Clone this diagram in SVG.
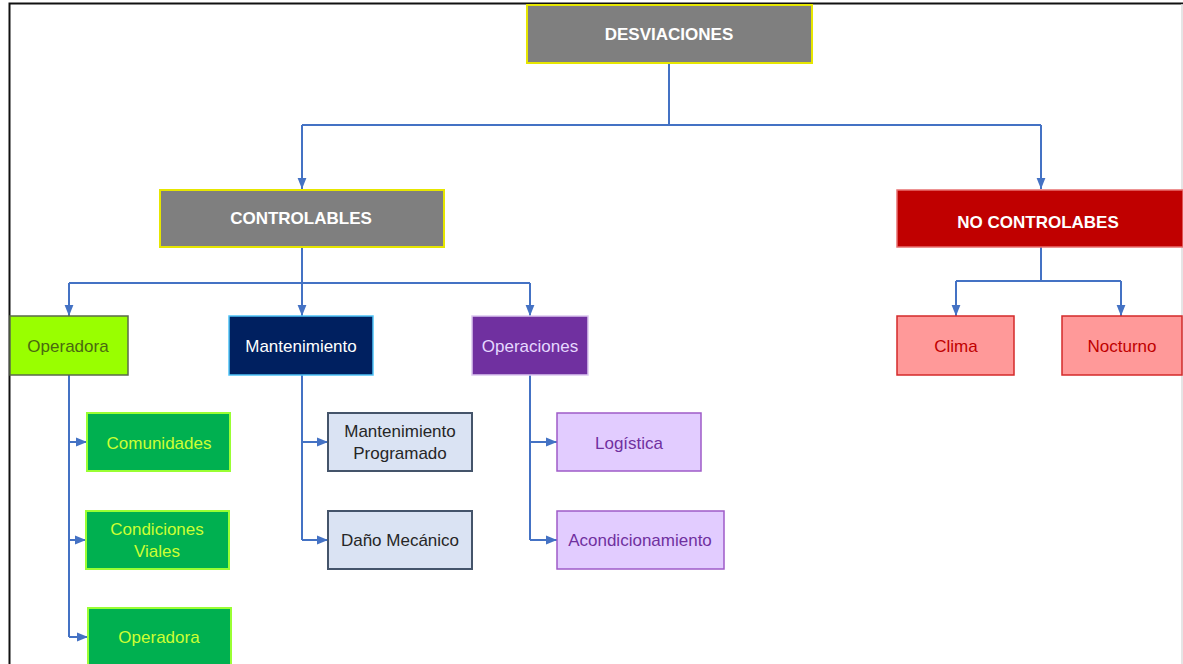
<svg xmlns="http://www.w3.org/2000/svg" width="1183" height="664" viewBox="0 0 1183 664">
<style>
text{font-family:"Liberation Sans",Arial,sans-serif;text-anchor:middle;dominant-baseline:central;font-size:17px}
.b{font-weight:bold;fill:#fff}
.c{fill:none;stroke:#4472c4;stroke-width:2}
.gray{fill:#7f7f7f;stroke:#e6e600;stroke-width:2}
.grn{fill:#00b050;stroke:#99ff33;stroke-width:2}
.gt{fill:#ccff33}
.mb{fill:#dae3f3;stroke:#44546a;stroke-width:2}
.mt{fill:#262626}
.pl{fill:#e2ccff;stroke:#9e5bc8;stroke-width:1.5}
.pt{fill:#7030a0}
.pk{fill:#ff9999;stroke:#d42a2a;stroke-width:1.5}
.kt{fill:#c00000}
</style>
<defs>
<marker id="a" viewBox="0 0 10 10" refX="10" refY="5" markerWidth="11" markerHeight="11" orient="auto" markerUnits="userSpaceOnUse">
<path d="M0,1L10,5L0,9z" fill="#4472c4"/>
</marker>
</defs>
<rect x="0" y="0" width="1183" height="664" fill="#fff"/>
<path d="M9.5,664V3.5H1183" fill="none" stroke="#111" stroke-width="2"/>
<path d="M1182,4V664" fill="none" stroke="#ddd" stroke-width="1.5"/>
<g id="connectors" class="c">
<path d="M669,63V125M302,125H1041"/>
<path d="M302,125V189" marker-end="url(#a)"/>
<path d="M1041,125V189" marker-end="url(#a)"/>
<path d="M302,247V283M69,283H530"/>
<path d="M69,283V316" marker-end="url(#a)"/>
<path d="M302,283V316" marker-end="url(#a)"/>
<path d="M530,283V316" marker-end="url(#a)"/>
<path d="M1041,247V281M956,281H1121"/>
<path d="M956,281V316" marker-end="url(#a)"/>
<path d="M1121,281V316" marker-end="url(#a)"/>
<path d="M69,375V637"/>
<path d="M69,442H87" marker-end="url(#a)"/>
<path d="M69,540H86" marker-end="url(#a)"/>
<path d="M69,637H88" marker-end="url(#a)"/>
<path d="M302,375V540"/>
<path d="M302,442H328" marker-end="url(#a)"/>
<path d="M302,540H328" marker-end="url(#a)"/>
<path d="M530,375V540"/>
<path d="M530,442H557" marker-end="url(#a)"/>
<path d="M530,540H557" marker-end="url(#a)"/>
</g>
<g id="desviaciones"><rect class="gray" x="527" y="5" width="285" height="58"/><text class="b" x="669" y="34">DESVIACIONES</text></g>
<g id="controlables"><rect class="gray" x="160" y="190" width="284" height="57"/><text class="b" x="301" y="218">CONTROLABLES</text></g>
<g id="nocontrolables"><rect x="897" y="190" width="286" height="57" fill="#c00000" stroke="#e87070" stroke-width="1.5"/><text class="b" x="1038" y="222">NO CONTROLABES</text></g>
<g id="operadora"><rect x="10" y="316" width="118" height="59" fill="#99ff00" stroke="#5a6a4a" stroke-width="1.5"/><text x="68" y="346" fill="#4a6a10">Operadora</text></g>
<g id="mantenimiento"><rect x="229" y="316" width="144" height="59" fill="#002060" stroke="#4fc3f7" stroke-width="1.5"/><text x="301" y="346" fill="#fff">Mantenimiento</text></g>
<g id="operaciones"><rect x="472" y="316" width="116" height="59" fill="#7030a0" stroke="#dcc8f0" stroke-width="1.5"/><text x="530" y="346" fill="#e6d8ff">Operaciones</text></g>
<g id="comunidades"><rect class="grn" x="87" y="413" width="143" height="58"/><text class="gt" x="159" y="443">Comunidades</text></g>
<g id="condiciones"><rect class="grn" x="86" y="511" width="143" height="58"/><text class="gt" x="157" y="529">Condiciones</text><text class="gt" x="157" y="551">Viales</text></g>
<g id="operadora2"><rect class="grn" x="88" y="608" width="143" height="60"/><text class="gt" x="159" y="637">Operadora</text></g>
<g id="mprog"><rect class="mb" x="328" y="413" width="144" height="58"/><text class="mt" x="400" y="431">Mantenimiento</text><text class="mt" x="400" y="453">Programado</text></g>
<g id="dano"><rect class="mb" x="328" y="511" width="144" height="58"/><text class="mt" x="400" y="540">Daño Mecánico</text></g>
<g id="logistica"><rect class="pl" x="557" y="413" width="144" height="58"/><text class="pt" x="629" y="443">Logística</text></g>
<g id="acond"><rect class="pl" x="557" y="511" width="167" height="58"/><text class="pt" x="640" y="540">Acondicionamiento</text></g>
<g id="clima"><rect class="pk" x="897" y="316" width="117" height="59"/><text class="kt" x="956" y="346">Clima</text></g>
<g id="nocturno"><rect class="pk" x="1062" y="316" width="120" height="59"/><text class="kt" x="1122" y="346">Nocturno</text></g>
</svg>
